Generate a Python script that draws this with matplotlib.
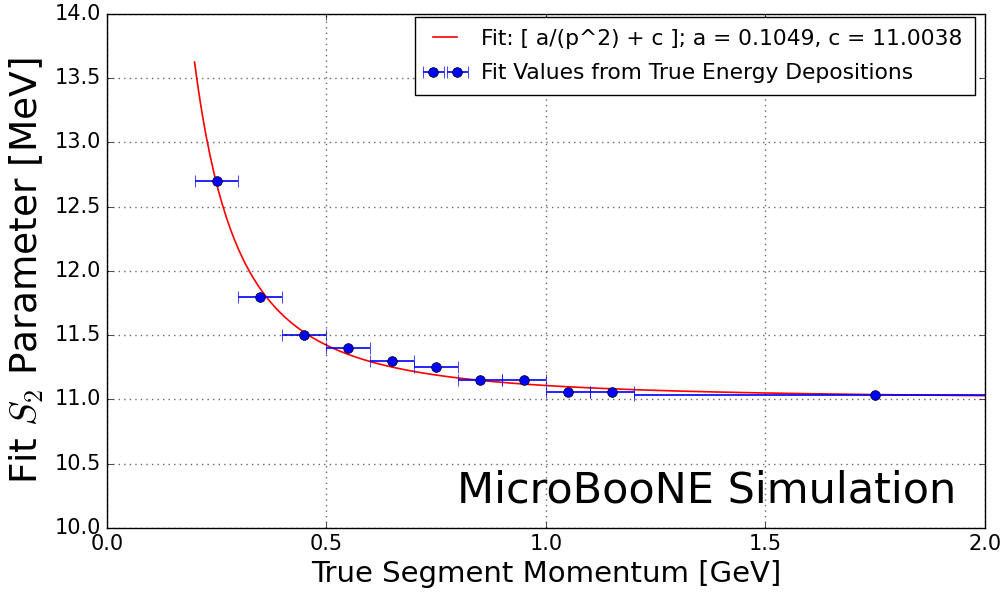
"""Fit S2 parameter vs true segment momentum, with the a/p^2 + c fit."""

import numpy as np
import matplotlib
matplotlib.use("Agg")
import matplotlib.pyplot as plt

# Data

momentum = [0.25, 0.35, 0.45, 0.55, 0.65, 0.75, 0.85, 0.95, 1.05, 1.15, 1.75]
momentum_err = [0.05, 0.05, 0.05, 0.05, 0.05, 0.05, 0.05, 0.05, 0.05, 0.05, 0.55]
s2_values = [12.70, 11.80, 11.50, 11.40, 11.30, 11.25, 11.15, 11.15, 11.055,
             11.055, 11.035]

# Fit parameters shown in the legend
fit_a = 0.1049
fit_c = 11.0038
fit_range = (0.2, 2.0)

# Plot

plt.style.use("classic")
fig = plt.figure(figsize=(10.07, 5.97), dpi=100)
ax = fig.add_axes([0.106, 0.1156, 0.872, 0.861])

p = np.linspace(fit_range[0], fit_range[1], 400)
ax.plot(
    p, fit_a / p**2 + fit_c, "r-", linewidth=1.2,
    label=f"Fit: [ a/(p^2) + c ]; a = {fit_a}, c = {fit_c}",
)
ax.errorbar(
    momentum, s2_values, xerr=momentum_err, fmt="o", color="b",
    markerfacecolor="b", markeredgecolor="k", markersize=7,
    ecolor="b", capsize=4, elinewidth=1.2,
    label="Fit Values from True Energy Depositions",
)

ax.set_xlim(0.0, 2.0)
ax.set_ylim(10.0, 14.0)
ax.set_xticks(np.arange(0.0, 2.01, 0.5))
ax.set_yticks(np.arange(10.0, 14.01, 0.5))
ax.tick_params(labelsize=15)
ax.grid(True, color="k", linestyle=":", linewidth=1, alpha=0.6)
ax.set_xlabel("True Segment Momentum [GeV]", fontsize=21)
ax.set_ylabel(r"Fit $S_2$ Parameter [MeV]", fontsize=27, labelpad=6)
ax.text(0.968, 0.049, "MicroBooNE Simulation", transform=ax.transAxes,
        ha="right", va="baseline", fontsize=31)
ax.legend(loc="upper right", bbox_to_anchor=(0.9886, 0.994),
          borderaxespad=0, fontsize=15.7, numpoints=2, fancybox=False,
          handlelength=1.7, handletextpad=0.8, borderpad=0.55,
          labelspacing=0.65)

fig.savefig("out.png", dpi=100, facecolor="white")
